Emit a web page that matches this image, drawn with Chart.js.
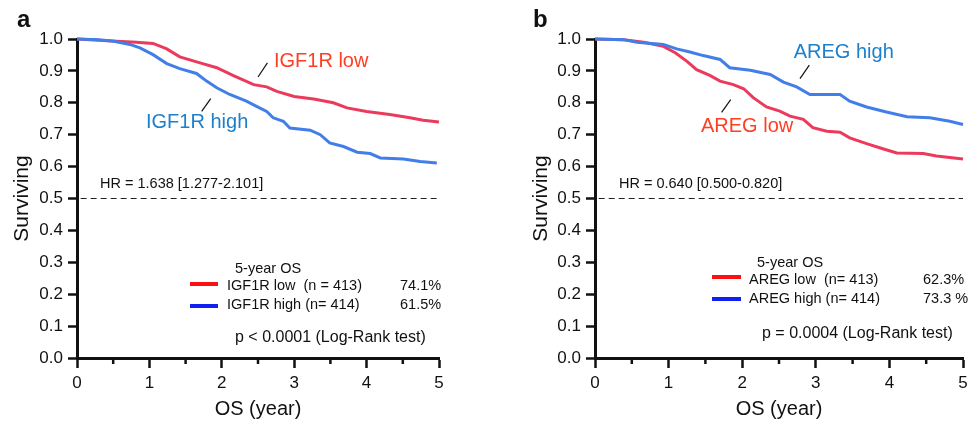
<!DOCTYPE html>
<html>
<head>
<meta charset="utf-8">
<script src="https://cdn.jsdelivr.net/npm/chart.js@4.4.0/dist/chart.umd.min.js"></script>
<style>
  body { margin: 0; background: #fff; }
  #wrap { position: relative; width: 976px; height: 421px; }
  canvas { position: absolute; top: 0; }
</style>
</head>
<body>
<div id="wrap">
  <canvas id="chartA" width="488" height="421" style="left:0"></canvas>
  <canvas id="chartB" width="488" height="421" style="left:488px"></canvas>
</div>
<script>
// ---- data ----
// panel a : IGF1R
const timeA_low  = [0, 0.36, 0.55, 0.82, 1.05, 1.24, 1.42, 1.70, 1.93, 2.16, 2.44, 2.62, 2.76, 3.00, 3.27, 3.54, 3.73, 4.00, 4.32, 4.60, 4.78, 5.00];
const survA_low  = [1.0, 0.995, 0.993, 0.99, 0.986, 0.969, 0.944, 0.925, 0.91, 0.885, 0.857, 0.85, 0.836, 0.82, 0.812, 0.80, 0.784, 0.773, 0.763, 0.753, 0.745, 0.74];
const timeA_high = [0, 0.30, 0.51, 0.73, 0.87, 1.05, 1.24, 1.42, 1.65, 1.79, 1.93, 2.11, 2.34, 2.48, 2.62, 2.71, 2.85, 2.94, 3.22, 3.36, 3.49, 3.68, 3.87, 4.05, 4.19, 4.51, 4.74, 4.97];
const survA_high = [1.0, 0.998, 0.993, 0.983, 0.972, 0.951, 0.923, 0.907, 0.892, 0.868, 0.847, 0.826, 0.805, 0.789, 0.773, 0.753, 0.742, 0.721, 0.714, 0.70, 0.674, 0.663, 0.645, 0.641, 0.627, 0.624, 0.616, 0.611];

// panel b : AREG
const timeB_low  = [0, 0.39, 0.66, 0.93, 1.09, 1.25, 1.38, 1.56, 1.70, 1.88, 2.02, 2.15, 2.33, 2.51, 2.65, 2.83, 2.96, 3.15, 3.33, 3.46, 3.69, 3.91, 4.10, 4.46, 4.64, 5.00];
const survB_low  = [1.0, 0.998, 0.99, 0.977, 0.957, 0.93, 0.904, 0.886, 0.868, 0.857, 0.844, 0.816, 0.787, 0.774, 0.758, 0.748, 0.722, 0.711, 0.708, 0.69, 0.672, 0.656, 0.643, 0.641, 0.633, 0.624];
const timeB_high = [0, 0.39, 0.57, 0.93, 1.11, 1.29, 1.47, 1.70, 1.83, 2.11, 2.38, 2.56, 2.74, 2.92, 3.33, 3.46, 3.69, 3.96, 4.24, 4.55, 4.82, 5.00];
const survB_high = [1.0, 0.998, 0.99, 0.983, 0.969, 0.959, 0.948, 0.936, 0.91, 0.902, 0.889, 0.865, 0.85, 0.826, 0.826, 0.805, 0.787, 0.771, 0.756, 0.753, 0.742, 0.732];

const hrLevel = [0.5, 0.5];
const hrSpan  = [0.05, 5];

const xTicks = [0, 1, 2, 3, 4, 5];
const xMinorTicks = [0.5, 1.5, 2.5, 3.5, 4.5];
const yTicks = [0.0, 0.1, 0.2, 0.3, 0.4, 0.5, 0.6, 0.7, 0.8, 0.9, 1.0];

const FONT = '"Liberation Sans", Arial, Helvetica, sans-serif';
const curveRed = 'rgb(236,58,92)';
const curveBlue = 'rgb(66,126,232)';

function toPoints(xs, ys) {
    return xs.map((x, i) => ({ x: x, y: ys[i] }));
}

// text, leader lines, legend box and minor ticks
const panelText = {
    id: 'panelText',
    afterDraw(chart, args, o) {
        const ctx = chart.ctx;
        const xs = chart.scales.x, ys = chart.scales.y;
        const area = chart.chartArea;
        ctx.save();

        // minor ticks on x axis
        ctx.strokeStyle = '#111';
        ctx.lineWidth = 2.5;
        xMinorTicks.forEach(t => {
            const px = xs.getPixelForValue(t);
            ctx.beginPath();
            ctx.moveTo(px, area.bottom);
            ctx.lineTo(px, area.bottom + 6);
            ctx.stroke();
        });

        ctx.textBaseline = 'middle';
        ctx.textAlign = 'left';

        // panel letter
        ctx.font = 'bold 24px ' + FONT;
        ctx.fillStyle = '#111';
        ctx.fillText(o.letter, o.letterX, 20);

        // curve labels
        o.labels.forEach(l => {
            ctx.font = '20px ' + FONT;
            ctx.fillStyle = l.color;
            ctx.fillText(l.text, xs.getPixelForValue(l.x), ys.getPixelForValue(l.y));
            ctx.strokeStyle = '#111';
            ctx.lineWidth = 1.2;
            ctx.beginPath();
            ctx.moveTo(xs.getPixelForValue(l.lead[0]), ys.getPixelForValue(l.lead[1]));
            ctx.lineTo(xs.getPixelForValue(l.lead[2]), ys.getPixelForValue(l.lead[3]));
            ctx.stroke();
        });

        // hazard ratio
        ctx.font = '14.5px ' + FONT;
        ctx.fillStyle = '#111';
        ctx.fillText(o.hr, xs.getPixelForValue(o.hrX), ys.getPixelForValue(o.hrY));

        // legend block
        const lg = o.legend;
        ctx.fillText('5-year OS', lg.titleX, lg.titleY);
        lg.rows.forEach(r => {
            ctx.strokeStyle = r.color;
            ctx.lineWidth = 4;
            ctx.beginPath();
            ctx.moveTo(lg.swX0, r.swY);
            ctx.lineTo(lg.swX1, r.swY);
            ctx.stroke();
            ctx.fillStyle = '#111';
            ctx.fillText(r.text, lg.textX, r.y);
            ctx.fillText(r.pct, lg.pctX, r.y);
        });

        ctx.font = '16px ' + FONT;
        ctx.fillText(o.pval, o.pX, o.pY);
        ctx.restore();
    }
};

function makePanel(id, low, high, padLeft, padRight, yWidth, extra) {
    const cfg = {
        type: 'line',
        data: {
            datasets: [
                { data: high, borderColor: curveBlue, borderWidth: 3, pointRadius: 0, clip: false },
                { data: low, borderColor: curveRed, borderWidth: 3, pointRadius: 0, clip: false },
                { data: toPoints(hrSpan, hrLevel), borderColor: '#222', borderWidth: 1.2, borderDash: [6, 4], pointRadius: 0 }
            ]
        },
        options: {
            responsive: false,
            devicePixelRatio: 1,
            animation: false,
            layout: { padding: { left: padLeft, right: padRight, top: 39, bottom: 0 } },
            plugins: {
                legend: { display: false },
                tooltip: { enabled: false },
                panelText: extra
            },
            scales: {
                x: {
                    type: 'linear', min: 0, max: 5,
                    afterFit: s => { s.height = 63; },
                    afterBuildTicks: s => { s.ticks = xTicks.map(v => ({ value: v })); },
                    ticks: { padding: 5, color: '#111', font: { family: FONT, size: 17 }, maxRotation: 0 },
                    grid: { drawOnChartArea: false, tickLength: 10, tickWidth: 2.5, tickColor: '#111' },
                    border: { width: 3, color: '#111' },
                    title: { display: true, text: 'OS (year)', color: '#111', padding: 0, font: { family: FONT, size: 20 } }
                },
                y: {
                    min: 0, max: 1,
                    afterFit: s => { s.width = yWidth; },
                    afterBuildTicks: s => { s.ticks = yTicks.map(v => ({ value: v })); },
                    ticks: { padding: 5, color: '#111', font: { family: FONT, size: 17 }, callback: v => v.toFixed(1) },
                    grid: { drawOnChartArea: false, tickLength: 9, tickWidth: 2.5, tickColor: '#111' },
                    border: { width: 3, color: '#111' },
                    title: { display: true, text: 'Surviving', color: '#111', padding: 0, font: { family: FONT, size: 21 } }
                }
            }
        },
        plugins: [panelText]
    };
    return new Chart(document.getElementById(id), cfg);
}

makePanel('chartA', toPoints(timeA_low, survA_low), toPoints(timeA_high, survA_high), 10, 49, 67, {
    letter: 'a', letterX: 17,
    labels: [
        { text: 'IGF1R low', color: 'rgb(255,62,34)', x: 2.72, y: 0.929, lead: [2.50, 0.881, 2.63, 0.925] },
        { text: 'IGF1R high', color: 'rgb(28,128,205)', x: 0.953, y: 0.738, lead: [1.722, 0.773, 1.847, 0.813] }
    ],
    hr: 'HR = 1.638 [1.277-2.101]', hrX: 0.318, hrY: 0.546,
    legend: {
        titleX: 235, titleY: 269, swX0: 190, swX1: 218, textX: 227, pctX: 400,
        rows: [
            { color: '#ff1010', swY: 284, y: 286, text: 'IGF1R low  (n = 413)', pct: '74.1%' },
            { color: '#1020f0', swY: 306, y: 305, text: 'IGF1R high (n= 414)', pct: '61.5%' }
        ]
    },
    pval: 'p < 0.0001 (Log-Rank test)', pX: 235, pY: 338
});

makePanel('chartB', toPoints(timeB_low, survB_low), toPoints(timeB_high, survB_high), 41, 13, 66, {
    letter: 'b', letterX: 45,
    labels: [
        { text: 'AREG high', color: 'rgb(28,128,205)', x: 2.70, y: 0.958, lead: [2.785, 0.876, 2.912, 0.918] },
        { text: 'AREG low', color: 'rgb(255,62,34)', x: 1.44, y: 0.726, lead: [1.72, 0.77, 1.844, 0.81] }
    ],
    hr: 'HR = 0.640 [0.500-0.820]', hrX: 0.326, hrY: 0.547,
    legend: {
        titleX: 269, titleY: 263, swX0: 224, swX1: 253, textX: 261, pctX: 435,
        rows: [
            { color: '#ff1010', swY: 277, y: 280, text: 'AREG low  (n= 413)', pct: '62.3%' },
            { color: '#1020f0', swY: 299, y: 298.5, text: 'AREG high (n= 414)', pct: '73.3 %' }
        ]
    },
    pval: 'p = 0.0004 (Log-Rank test)', pX: 274, pY: 334
});
</script>
</body>
</html>
